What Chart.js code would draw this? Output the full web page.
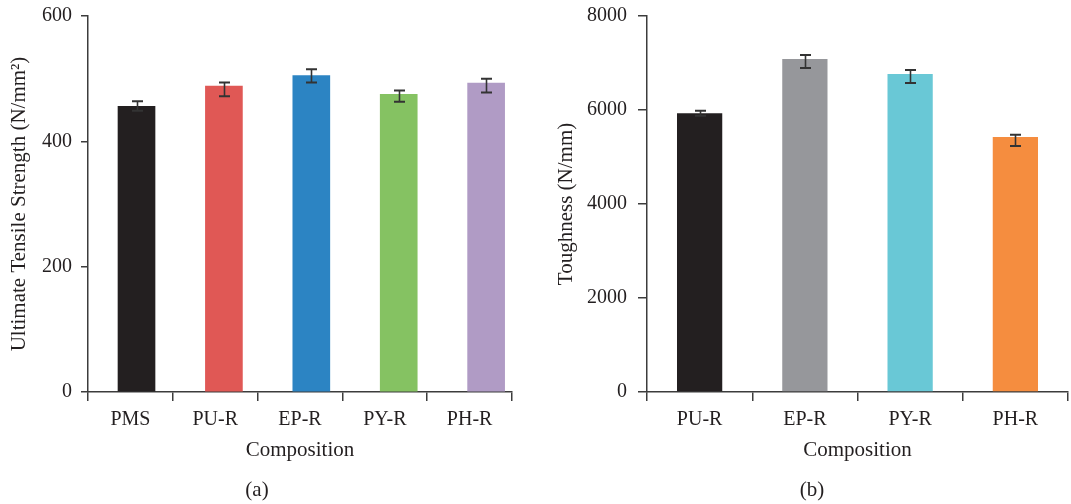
<!DOCTYPE html>
<html>
<head>
<meta charset="utf-8">
<script src="https://cdn.jsdelivr.net/npm/chart.js@4.4.1/dist/chart.umd.min.js"></script>
<style>
  html, body { margin: 0; padding: 0; background: #fff; }
  #wrap { position: relative; width: 1071px; height: 504px; overflow: hidden; }
  canvas { position: absolute; top: 0; }
  .cap { position: absolute; font-family: 'Liberation Serif', serif; font-size: 21px; color: #231f20; transform: translateX(-50%); }
</style>
</head>
<body>
<div id="wrap">
  <canvas id="c1" width="540" height="504" style="left:0"></canvas>
  <canvas id="c2" width="531" height="504" style="left:540px"></canvas>
  <div class="cap" style="left:257px; top:477px;">(a)</div>
  <div class="cap" style="left:812px; top:477px;">(b)</div>
</div>
<script>
// ---- Data (a) ----
const categoriesA = ['PMS', 'PU-R', 'EP-R', 'PY-R', 'PH-R'];
const strengthValues = [456, 488, 505, 475, 493];
const strengthErrHigh = [464, 494, 515, 481, 500];
const strengthErrLow = [449, 472, 494, 463, 478];
const colorsA = ['#231f20', '#e05855', '#2c84c3', '#85c262', '#b09bc5'];
const ticksA = [0, 200, 400, 600];

// ---- Data (b) ----
const categoriesB = ['PU-R', 'EP-R', 'PY-R', 'PH-R'];
const toughnessValues = [5930, 7085, 6766, 5426];
const toughnessErrHigh = [5985, 7170, 6851, 5475];
const toughnessErrLow = [5880, 6894, 6574, 5234];
const colorsB = ['#231f20', '#96979b', '#69c8d6', '#f58d3f'];
const ticksB = [0, 2000, 4000, 6000, 8000];

const FONT = "'Liberation Serif', 'Times New Roman', serif";
const TXT = '#231f20';
const AXIS = '#3c3c3c';

const errorBarPlugin = {
  id: 'errorBars',
  afterDatasetsDraw(chart, args, opts) {
    const ctx = chart.ctx;
    const meta = chart.getDatasetMeta(0);
    const ys = chart.scales.y;
    ctx.save();
    ctx.strokeStyle = '#333';
    meta.data.forEach((bar, i) => {
      const x = Math.round(bar.x) + 0.5;
      const yh = ys.getPixelForValue(opts.high[i]);
      const yl = ys.getPixelForValue(opts.low[i]);
      ctx.lineWidth = 1.6;
      ctx.beginPath();
      ctx.moveTo(x, yh); ctx.lineTo(x, yl);
      ctx.stroke();
      ctx.lineWidth = 2;
      ctx.beginPath();
      ctx.moveTo(x - 5.5, yh); ctx.lineTo(x + 5.5, yh);
      ctx.moveTo(x - 5.5, yl); ctx.lineTo(x + 5.5, yl);
      ctx.stroke();
    });
    ctx.restore();
  }
};

function makeChart(id, cats, vals, cols, hi, lo, tickVals, yTitle, cfg) {
  const useLinear = !!cfg.barAxis;
  const dataset = {
    data: useLinear ? vals.map((v, i) => ({ x: i, y: v })) : vals,
    backgroundColor: cols, borderWidth: 0
  };
  if (useLinear) {
    dataset.xAxisID = 'xb';
    dataset.barThickness = cfg.barThickness;
  } else {
    dataset.categoryPercentage = 1.0;
    dataset.barPercentage = cfg.barPct;
  }
  const scales = {
    x: {
      type: 'category',
      labels: cats,
      grid: { display: true, drawOnChartArea: false, drawTicks: true, tickLength: 9,
              color: AXIS, lineWidth: 1.5, offset: true },
      offset: true,
      border: { display: true, color: AXIS, width: 1.5 },
      ticks: { color: TXT, font: { family: FONT, size: 20 }, padding: 7 },
      title: { display: true, text: 'Composition', color: TXT,
               font: { family: FONT, size: 21 }, padding: { top: 0, bottom: 41 } },
      afterFit(scale) { scale.height = 504 - 392; scale.paddingLeft = 0; scale.paddingRight = 0; }
    },
    y: {
      min: tickVals[0], max: tickVals[tickVals.length - 1],
      afterBuildTicks(scale) { scale.ticks = tickVals.map(v => ({ value: v })); },
      grid: { display: true, drawOnChartArea: false, drawTicks: true, tickLength: cfg.yTickLen,
              color: AXIS, lineWidth: 1.5 },
      border: { display: true, color: AXIS, width: 1.5 },
      ticks: { color: TXT, font: { family: FONT, size: 20 }, padding: cfg.yLabelPad,
               callback: v => String(v) },
      title: { display: true, text: yTitle, color: TXT,
               font: { family: FONT, size: 21 }, padding: { top: cfg.yTitlePad, bottom: 0 } },
      afterFit(scale) { scale.width = cfg.yWidth; scale.paddingTop = 0; scale.paddingBottom = 0; }
    }
  };
  if (useLinear) {
    scales.xb = { type: 'linear', position: 'bottom', display: false, offset: false,
                  grid: { offset: false },
                  min: cfg.barAxis.min, max: cfg.barAxis.max };
  }
  return new Chart(document.getElementById(id), {
    type: 'bar',
    data: { labels: cats, datasets: [dataset] },
    options: {
      responsive: false,
      animation: false,
      devicePixelRatio: 1,
      layout: { padding: { left: 0, top: 16, right: cfg.padRight, bottom: 0 } },
      plugins: {
        legend: { display: false },
        tooltip: { enabled: false },
        errorBars: { high: hi, low: lo }
      },
      scales
    },
    plugins: [errorBarPlugin]
  });
}

makeChart('c1', categoriesA, strengthValues, colorsA, strengthErrHigh, strengthErrLow, ticksA,
  'Ultimate Tensile Strength (N/mm\u00B2)',
  { barAxis: { min: -0.555, max: 4.296 }, barThickness: 37, padRight: 28,
    yWidth: 88, yTickLen: 7, yLabelPad: 9, yTitlePad: 7 });

makeChart('c2', categoriesB, toughnessValues, colorsB, toughnessErrHigh, toughnessErrLow, ticksB,
  'Toughness (N/mm)',
  { barPct: 0.43, padRight: 3, yWidth: 107, yTickLen: 9, yLabelPad: 11, yTitlePad: 14 });
</script>
</body>
</html>
